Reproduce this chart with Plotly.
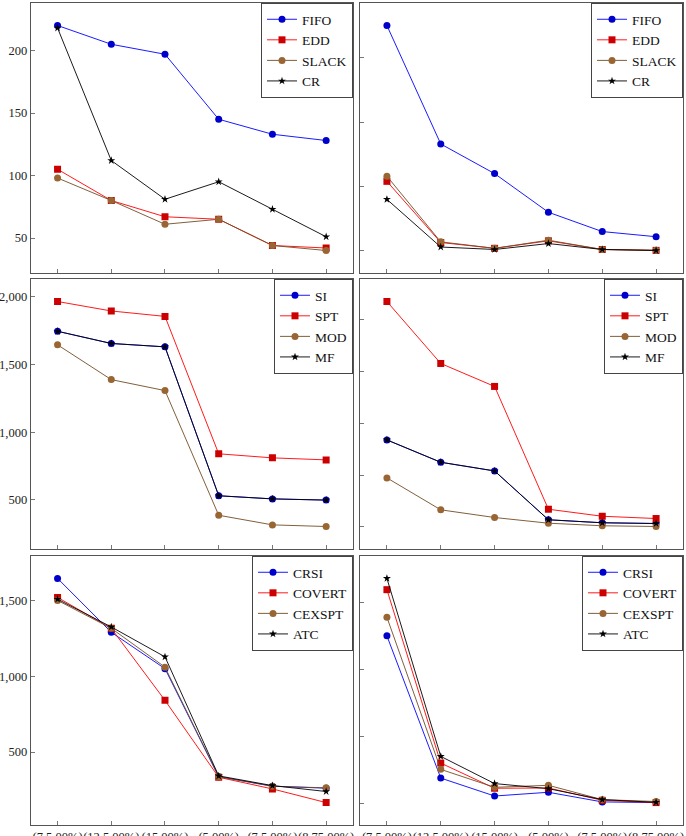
import plotly.graph_objects as go

categories = ["(7.5,00%)", "(12.5,00%)", "(15,00%)", "(5,00%)", "(7.5,00%)", "(8.75,00%)"]

# Panel 1 (top-left)
p1_names = ["FIFO", "EDD", "SLACK", "CR"]
p1_fifo = [220, 205, 197, 145, 133, 128]
p1_edd = [105, 80, 67, 65, 44, 42]
p1_slack = [98, 80, 61, 65, 44, 40]
p1_cr = [218, 112, 81, 95, 73, 51]
# Panel 2 (top-right)
p2_fifo = [175, 83, 60, 30, 15, 11]
p2_edd = [54, 6.5, 2, 7.8, 1.1, 0.4]
p2_slack = [58, 7, 2, 8.3, 1.1, 0.5]
p2_cr = [40, 3, 1.1, 5.7, 1.1, 0.3]
# Panel 3 (middle-left)
p3_names = ["SI", "SPT", "MOD", "MF"]
p3_si = [1745, 1655, 1630, 530, 507, 498]
p3_spt = [1965, 1895, 1855, 840, 810, 795]
p3_mod = [1645, 1388, 1307, 386, 315, 303]
p3_mf = [1745, 1655, 1630, 530, 507, 498]
# Panel 4 (middle-right)
p4_si = [840, 624, 540, 68, 39, 32]
p4_spt = [2178, 1579, 1357, 170, 102, 80]
p4_mod = [473, 164, 90, 35, 10, 3]
p4_mf = [840, 624, 540, 68, 39, 32]
# Panel 5 (bottom-left)
p5_names = ["CRSI", "COVERT", "CEXSPT", "ATC"]
p5_crsi = [1645, 1290, 1050, 338, 275, 262]
p5_covert = [1520, 1316, 841, 334, 257, 167]
p5_cexspt = [1500, 1316, 1060, 338, 275, 264]
p5_atc = [1508, 1325, 1128, 343, 279, 240]
# Panel 6 (bottom-right)
p6_crsi = [1250, 188, 54, 82, 10, 5]
p6_covert = [1595, 300, 112, 114, 22, 5]
p6_cexspt = [1389, 253, 119, 134, 27, 13]
p6_atc = [1679, 350, 147, 109, 27, 7]

left_ticks = {1: [50, 100, 150, 200], 3: [500, 1000, 1500, 2000], 5: [500, 1000, 1500]}
right_ticks = {2: [0, 50, 100, 150], 4: [0, 500, 1000, 1500, 2000], 6: [0, 500, 1000, 1500]}

W, H = 686, 836
FONT = "Liberation Serif, Times New Roman, Times, serif"

styles = [
    dict(line=dict(color="#0000ff", width=0.9), marker=dict(symbol="circle", size=7, color="#0000cc")),
    dict(line=dict(color="#ff0000", width=0.9), marker=dict(symbol="square", size=7, color="#cc0000")),
    dict(line=dict(color="#734d26", width=0.9), marker=dict(symbol="circle", size=7, color="#996633")),
    dict(line=dict(color="#000000", width=0.9), marker=dict(symbol="star", size=6, color="#000000")),
]

panels = [
    (1, p1_names, [p1_fifo, p1_edd, p1_slack, p1_cr]),
    (2, p1_names, [p2_fifo, p2_edd, p2_slack, p2_cr]),
    (3, p3_names, [p3_si, p3_spt, p3_mod, p3_mf]),
    (4, p3_names, [p4_si, p4_spt, p4_mod, p4_mf]),
    (5, p5_names, [p5_crsi, p5_covert, p5_cexspt, p5_atc]),
    (6, p5_names, [p6_crsi, p6_covert, p6_cexspt, p6_atc]),
]

col_px = {0: (30.7, 353), 1: (360, 683)}
row_px = {0: (3, 273), 1: (279, 549), 2: (556, 825)}

fig = go.Figure()
layout = dict(width=W, height=H, margin=dict(l=0, r=0, t=0, b=0),
              paper_bgcolor="white", plot_bgcolor="white", showlegend=True,
              font=dict(family=FONT))

xidx = list(range(len(categories)))

for (pid, names, series) in panels:
    r = (pid - 1) // 2
    c = (pid - 1) % 2
    x0, x1 = col_px[c]
    y0, y1 = row_px[r]
    xd = [x0 / W, x1 / W]
    yd = [1 - y1 / H, 1 - y0 / H]
    sfx = "" if pid == 1 else str(pid)
    lg = "legend" if pid == 1 else "legend" + str(pid)
    for name, vals, st in zip(names, series, styles):
        fig.add_trace(go.Scatter(x=xidx, y=vals, name=name, mode="lines+markers",
                                 line=st["line"], marker=st["marker"],
                                 xaxis="x" + sfx, yaxis="y" + sfx, legend=lg))
    allv = [v for s in series for v in s]
    lo, hi = min(allv), max(allv)
    pad = 0.1 * (hi - lo)
    is_bottom = (r == 2)
    layout["xaxis" + sfx] = dict(
        domain=xd, anchor="y" + sfx, range=[-0.5, len(categories) - 0.5],
        tickvals=xidx, ticktext=categories, showticklabels=is_bottom,
        ticks="inside", ticklen=4, tickcolor="#777", tickwidth=1,
        showgrid=False, zeroline=False, showline=True, linecolor="#555",
        linewidth=1, mirror=True,
        tickfont=dict(family=FONT, size=12.5, color="#222"), tickangle=0,
        automargin=False,
    )
    if c == 0:
        tv = left_ticks[pid]
        showl = True
    else:
        tv = right_ticks[pid]
        showl = False
    layout["yaxis" + sfx] = dict(
        domain=yd, anchor="x" + sfx, range=[lo - pad, hi + pad],
        tickvals=tv, tickformat=",d", showticklabels=showl,
        ticks="inside", ticklen=4, tickcolor="#777", tickwidth=1,
        showgrid=False, zeroline=False, showline=True, linecolor="#555",
        linewidth=1, mirror=True,
        tickfont=dict(family=FONT, size=12.5, color="#222"),
        automargin=False,
    )
    layout[lg] = dict(
        x=xd[1], y=yd[1], xanchor="right", yanchor="top", xref="paper", yref="paper",
        bgcolor="white", bordercolor="#444", borderwidth=1,
        font=dict(family=FONT, size=13.5, color="#111"),
        itemwidth=30, tracegroupgap=0,
    )

fig.update_layout(**layout)
fig.write_html("out.html")
